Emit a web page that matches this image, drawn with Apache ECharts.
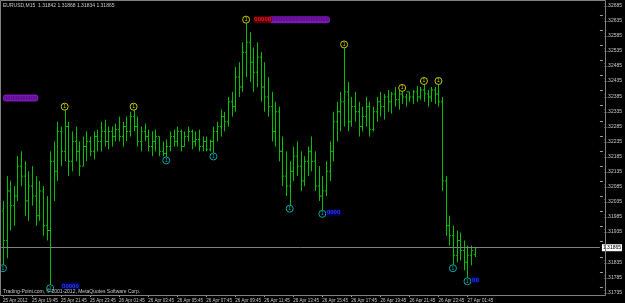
<!DOCTYPE html>
<html><head><meta charset="utf-8">
<script src="https://cdn.jsdelivr.net/npm/echarts@6/dist/echarts.min.js"></script>
<style>html,body{margin:0;padding:0;background:#000;}#c{width:625px;height:303px;}</style>
</head><body><div id="c"></div>
<script>
// ---- DATA (EURUSD M15, 25 Apr 2012 17:45 onward) ----
const symbolTitle = 'EURUSD,M15';
const xTickLabels = ['25 Apr 2012','25 Apr 19:45','25 Apr 21:45','25 Apr 23:45','26 Apr 01:45','26 Apr 03:45','26 Apr 05:45','26 Apr 07:45','26 Apr 09:45','26 Apr 11:45','26 Apr 13:45','26 Apr 15:45','26 Apr 17:45','26 Apr 19:45','26 Apr 21:45','26 Apr 23:45','27 Apr 01:45'];
const slotCount = 165;
const opens = [1.31987,1.31889,1.32053,1.32004,1.32036,1.32135,1.32102,1.32020,1.32069,1.32036,1.31971,1.32053,1.31938,1.31922,1.32151,1.32118,1.32250,1.32184,1.32266,1.32151,
1.32217,1.32184,1.32135,1.32200,1.32217,1.32184,1.32233,1.32217,1.32250,1.32217,1.32250,1.32233,1.32256,1.32233,1.32266,1.32250,1.32299,1.32266,1.32217,1.32250,
1.32233,1.32200,1.32217,1.32233,1.32184,1.32177,1.32200,1.32233,1.32217,1.32250,1.32200,1.32233,1.32250,1.32217,1.32223,1.32200,1.32217,1.32191,1.32217,1.32250,
1.32266,1.32299,1.32282,1.32348,1.32332,1.32430,1.32397,1.32512,1.32545,1.32479,1.32446,1.32496,1.32397,1.32364,1.32332,1.32250,1.32315,1.32184,1.32102,1.32069,
1.32118,1.32168,1.32135,1.32086,1.32151,1.32184,1.32151,1.32069,1.32036,1.32053,1.32118,1.32184,1.32282,1.32315,1.32348,1.32381,1.32282,1.32332,1.32315,1.32266,
1.32299,1.32332,1.32256,1.32315,1.32348,1.32332,1.32364,1.32348,1.32374,1.32355,1.32374,1.32364,1.32381,1.32364,1.32381,1.32364,1.32387,1.32374,1.32364,1.32387,
1.32374,1.32348,1.32086,1.31938,1.31905,1.31840,1.31889,1.31856,1.31817,1.31840,1.31842];
const highs = [1.32020,1.32102,1.32086,1.32069,1.32168,1.32184,1.32151,1.32118,1.32135,1.32102,1.32086,1.32069,1.32036,1.32184,1.32217,1.32282,1.32266,1.32322,1.32282,1.32250,
1.32266,1.32217,1.32233,1.32250,1.32233,1.32250,1.32256,1.32282,1.32289,1.32266,1.32266,1.32276,1.32299,1.32282,1.32299,1.32315,1.32322,1.32299,1.32266,1.32276,
1.32256,1.32250,1.32256,1.32233,1.32217,1.32223,1.32250,1.32256,1.32266,1.32256,1.32250,1.32266,1.32256,1.32250,1.32256,1.32233,1.32233,1.32223,1.32266,1.32282,
1.32322,1.32315,1.32364,1.32381,1.32463,1.32479,1.32545,1.32610,1.32578,1.32528,1.32545,1.32512,1.32479,1.32430,1.32381,1.32348,1.32332,1.32233,1.32184,1.32151,
1.32200,1.32217,1.32184,1.32168,1.32200,1.32233,1.32184,1.32135,1.32102,1.32151,1.32217,1.32315,1.32348,1.32381,1.32528,1.32414,1.32364,1.32381,1.32348,1.32332,
1.32364,1.32348,1.32332,1.32364,1.32381,1.32374,1.32387,1.32381,1.32397,1.32387,1.32384,1.32374,1.32381,1.32387,1.32400,1.32397,1.32407,1.32387,1.32397,1.32397,
1.32407,1.32364,1.32102,1.31971,1.31938,1.31922,1.31915,1.31889,1.31872,1.31872,1.31868];
const lows = [1.31807,1.31830,1.31922,1.31938,1.32020,1.32069,1.31971,1.31954,1.32004,1.31938,1.31954,1.31905,1.31889,1.31741,1.32020,1.32086,1.32135,1.32151,1.32102,1.32118,
1.32151,1.32102,1.32135,1.32151,1.32168,1.32158,1.32184,1.32184,1.32200,1.32191,1.32200,1.32217,1.32217,1.32200,1.32217,1.32233,1.32250,1.32200,1.32184,1.32217,
1.32184,1.32168,1.32184,1.32168,1.32168,1.32164,1.32184,1.32200,1.32200,1.32184,1.32200,1.32217,1.32191,1.32200,1.32184,1.32184,1.32184,1.32184,1.32177,1.32217,
1.32233,1.32250,1.32266,1.32299,1.32315,1.32364,1.32381,1.32430,1.32414,1.32381,1.32397,1.32348,1.32315,1.32299,1.32217,1.32200,1.32151,1.32069,1.32036,1.32004,
1.32086,1.32102,1.32053,1.32069,1.32102,1.32118,1.32053,1.32020,1.31987,1.32036,1.32086,1.32151,1.32217,1.32250,1.32266,1.32250,1.32266,1.32282,1.32233,1.32250,
1.32266,1.32233,1.32250,1.32282,1.32299,1.32289,1.32315,1.32309,1.32332,1.32322,1.32341,1.32332,1.32348,1.32341,1.32348,1.32355,1.32348,1.32332,1.32348,1.32341,
1.32332,1.32053,1.31905,1.31872,1.31807,1.31817,1.31823,1.31790,1.31764,1.31807,1.31834];
const closes = [1.31889,1.32053,1.32004,1.32036,1.32135,1.32102,1.32020,1.32069,1.32036,1.31971,1.32053,1.31938,1.31922,1.32151,1.32118,1.32250,1.32184,1.32266,1.32151,1.32217,
1.32184,1.32135,1.32200,1.32217,1.32184,1.32233,1.32217,1.32250,1.32217,1.32250,1.32233,1.32256,1.32233,1.32266,1.32250,1.32299,1.32266,1.32217,1.32250,1.32233,
1.32200,1.32217,1.32233,1.32184,1.32177,1.32200,1.32233,1.32217,1.32250,1.32200,1.32233,1.32250,1.32217,1.32223,1.32200,1.32217,1.32191,1.32217,1.32250,1.32266,
1.32299,1.32282,1.32348,1.32332,1.32430,1.32397,1.32512,1.32545,1.32479,1.32446,1.32496,1.32397,1.32364,1.32332,1.32250,1.32315,1.32184,1.32102,1.32069,1.32118,
1.32168,1.32135,1.32086,1.32151,1.32184,1.32151,1.32069,1.32036,1.32053,1.32118,1.32184,1.32282,1.32315,1.32348,1.32381,1.32282,1.32332,1.32315,1.32266,1.32299,
1.32332,1.32256,1.32315,1.32348,1.32332,1.32364,1.32348,1.32374,1.32355,1.32374,1.32364,1.32381,1.32364,1.32381,1.32364,1.32387,1.32374,1.32364,1.32387,1.32374,
1.32348,1.32086,1.31938,1.31905,1.31840,1.31889,1.31856,1.31817,1.31840,1.31856,1.31865];
// ZigZag swing labels (bar indices)
const swingHighBars = [17,36,67,94,110,116,120];
const swingLowBars = [0,13,45,58,79,88,124,128];
// text objects: [bar, price, glyph count]
const purpleTags = [[0,1.32361,10],[73,1.32620,18]];
const redTags = [[69,1.32620,5]];
const blueTags = [[16,1.31738,5],[89,1.31981,4],[129,1.31758,2]];
const yMin = 1.31735, yMax = 1.32685, yStep = 0.0005;
const copyright = 'Trading-Point.com, \u00a9 2001-2012, MetaQuotes Software Corp.';

// ---- CHART ----
const categories = [];
for (let i = 0; i < slotCount; i++) categories.push(String(i));
const ohlc = opens.map((o, i) => [i, o, highs[i], lows[i], closes[i]]);
const last = ohlc[ohlc.length - 1];
const FONT = 'Liberation Sans';
const barColor = '#00c000';

function tagSeries(tags, glyphColor, bgColor) {
  return {
    type: 'scatter', symbolSize: 0, z: 6, silent: true,
    data: tags.map(t => [t[0], t[1], t[2]]),
    label: {
      show: true, position: 'right', distance: 0,
      formatter: p => '0'.repeat(p.value[2]),
      fontFamily: FONT, fontSize: 6, fontWeight: 'bold', lineHeight: 7,
      color: glyphColor, backgroundColor: bgColor, borderRadius: 3, padding: [0, 1, 0, 1]
    }
  };
}

const chart = echarts.init(document.getElementById('c'), null, {renderer: 'canvas'});
chart.setOption({
  animation: false,
  backgroundColor: '#000',
  grid: {left: 0, right: 20, top: -3, bottom: 16},
  xAxis: {
    type: 'category', data: categories, boundaryGap: true, offset: 8,
    axisLine: {show: false},
    axisTick: {show: true, alignWithLabel: true, length: 2, lineStyle: {color: '#a0a0a0'},
      interval: i => i % 8 === 0 && i / 8 < xTickLabels.length},
    axisLabel: {
      show: true, margin: 3, fontSize: 4.5, fontFamily: FONT, color: '#c8c8c8', align: 'left',
      interval: i => i % 8 === 0 && i / 8 < xTickLabels.length,
      formatter: (v, i) => xTickLabels[i / 8] || ''
    },
    splitLine: {show: false}
  },
  yAxis: {
    type: 'value', position: 'right', min: yMin, max: yMax, interval: yStep, scale: true,
    axisLine: {show: false},
    axisTick: {show: true, length: 3, lineStyle: {color: '#a0a0a0'}},
    axisLabel: {show: true, margin: 4, fontSize: 5, fontFamily: FONT, color: '#c8c8c8',
      verticalAlign: 'top', padding: [3, 0, 0, 0], showMinLabel: true, showMaxLabel: true,
      formatter: v => v.toFixed(5)},
    splitLine: {show: false}
  },
  series: [
    {
      type: 'custom', z: 3, silent: true,
      data: ohlc,
      encode: {x: 0, y: [1, 2, 3, 4]},
      renderItem: (params, api) => {
        const idx = api.value(0);
        const x = Math.round(api.coord([idx, api.value(1)])[0]) + 0.5;
        const yo = api.coord([idx, api.value(1)])[1];
        const yh = api.coord([idx, api.value(2)])[1];
        const yl = api.coord([idx, api.value(3)])[1];
        const yc = api.coord([idx, api.value(4)])[1];
        const st = {stroke: barColor, lineWidth: 1};
        return {type: 'group', children: [
          {type: 'line', shape: {x1: x, y1: yh, x2: x, y2: yl}, style: st},
          {type: 'line', shape: {x1: x - 1.5, y1: yo, x2: x, y2: yo}, style: st},
          {type: 'line', shape: {x1: x, y1: yc, x2: x + 1.5, y2: yc}, style: st}
        ]};
      }
    },
    {
      type: 'scatter', z: 5, silent: true, symbol: 'circle', symbolSize: 7, symbolOffset: [0, -3],
      data: swingHighBars.map(i => [i, highs[i]]),
      itemStyle: {color: '#000', borderColor: '#c8c800', borderWidth: 1, opacity: 1},
      label: {show: true, position: 'inside', formatter: '1', fontSize: 5, fontFamily: FONT, color: '#c8c800'}
    },
    {
      type: 'scatter', z: 5, silent: true, symbol: 'circle', symbolSize: 7, symbolOffset: [0, 3],
      data: swingLowBars.map(i => [i, lows[i]]),
      itemStyle: {color: '#000', borderColor: '#00a8a8', borderWidth: 1, opacity: 1},
      label: {show: true, position: 'inside', formatter: '1', fontSize: 5, fontFamily: FONT, color: '#00a8a8'},
      markLine: {
        silent: true, symbol: ['none', 'none'], animation: false, precision: 5,
        lineStyle: {color: '#808080', type: 'solid', width: 1},
        data: [{yAxis: last[4]}],
        label: {show: true, position: 'end', distance: 2, formatter: p => Number(p.value).toFixed(5),
          backgroundColor: '#ffffff', color: '#000', fontSize: 5, fontFamily: FONT, padding: [1, 1, 1, 1]}
      }
    },
    tagSeries(purpleTags, '#4a0078', '#9a20e0'),
    tagSeries(redTags, '#ff2020', '#700000'),
    tagSeries(blueTags, '#3050ff', '#000070')
  ],
  graphic: [
    {type: 'rect', silent: true, z: 100, shape: {x: 0.5, y: 0.5, width: 605, height: 295},
      style: {fill: null, stroke: '#808080', lineWidth: 1}},
    {type: 'text', silent: true, z: 100, left: 3, top: 3,
      style: {text: symbolTitle + '  ' + [last[1], last[2], last[3], last[4]].map(v => v.toFixed(5)).join(' '),
        fill: '#c8c8c8', fontSize: 5, fontFamily: FONT}},
    {type: 'text', silent: true, z: 100, left: 3, top: 289,
      style: {text: copyright, fill: '#c8c8c8', fontSize: 5, fontFamily: FONT}}
  ]
});
</script></body></html>
